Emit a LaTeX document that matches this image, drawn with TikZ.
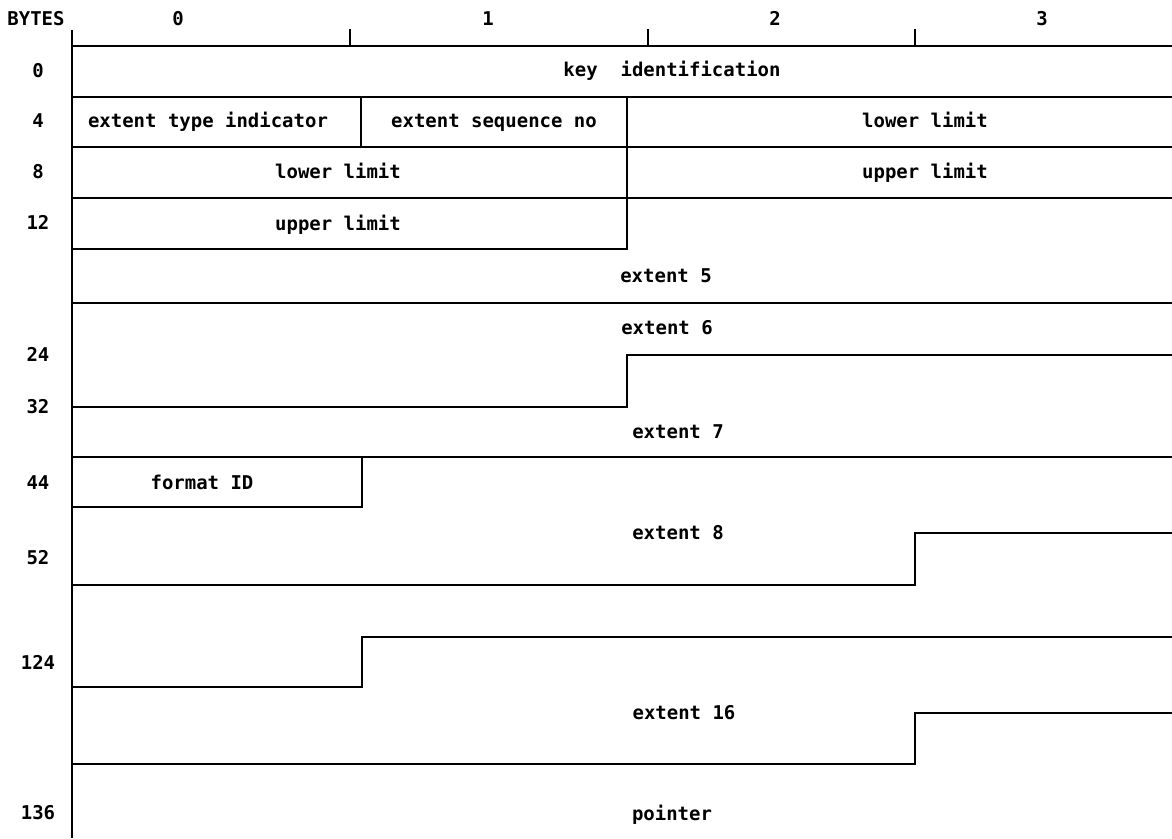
\documentclass[tikz,border=0pt]{standalone}
\usepackage{fontspec}
\setmonofont{DejaVu Sans Mono}
\begin{document}
\begin{tikzpicture}[x=0.02cm,y=-0.02cm,line width=0.8pt,
  txt/.style={font=\ttfamily\bfseries\fontsize{10.8}{12}\selectfont,inner sep=0pt,anchor=base}]
\useasboundingbox (0,0) rectangle (1172,838);
% byte columns
\node[txt] (bytes) at (36,26) {BYTES};
\foreach \b/\x in {0/178,1/488,2/775,3/1042}
  \node[txt] (col\b) at (\x,26) {\b};
\foreach \x in {350,648,915}
  \draw (\x,29)--(\x,46);
% offsets
\foreach \o/\y in {0/78,4/128,8/178,12/229,24/361,32/413,44/489,52/564,124/669,136/819}
  \node[txt] (off\o) at (38,\y) {\o};
\draw (72,30)--(72,838);
% fixed part
\draw (72,46)--(1172,46);
\draw (72,97)--(1172,97);
\draw (72,147)--(1172,147);
\draw (72,198)--(1172,198);
\draw (361,97)--(361,147);
\draw (627,97)--(627,249)--(72,249);
\node[txt] (keyid) at (672,77) {key\ \ identification};
\node[txt] (exttype) at (208,128) {extent type indicator};
\node[txt] (extseq) at (494,128) {extent sequence no};
\node[txt] (lowA) at (925,128) {lower limit};
\node[txt] (lowB) at (338,178) {lower limit};
\node[txt] (upA) at (925,178) {upper limit};
\node[txt] (upB) at (338,230) {upper limit};
% extents
\node[txt] (ext5) at (666,282) {extent 5};
\draw (72,303)--(1172,303);
\node[txt] (ext6) at (667,334) {extent 6};
\draw (1172,355)--(627,355)--(627,407)--(72,407);
\node[txt] (ext7) at (678,438) {extent 7};
\draw (72,457)--(1172,457);
\draw (362,457)--(362,507)--(72,507);
\node[txt] (fmtid) at (202,489) {format ID};
\node[txt] (ext8) at (678,539) {extent 8};
\draw (1172,533)--(915,533)--(915,585)--(72,585);
\draw (1172,637)--(362,637)--(362,687)--(72,687);
\node[txt] (ext16) at (684,719) {extent 16};
\draw (1172,713)--(915,713)--(915,764)--(72,764);
\node[txt] (ptr) at (672,820) {pointer};
\end{tikzpicture}
\end{document}
